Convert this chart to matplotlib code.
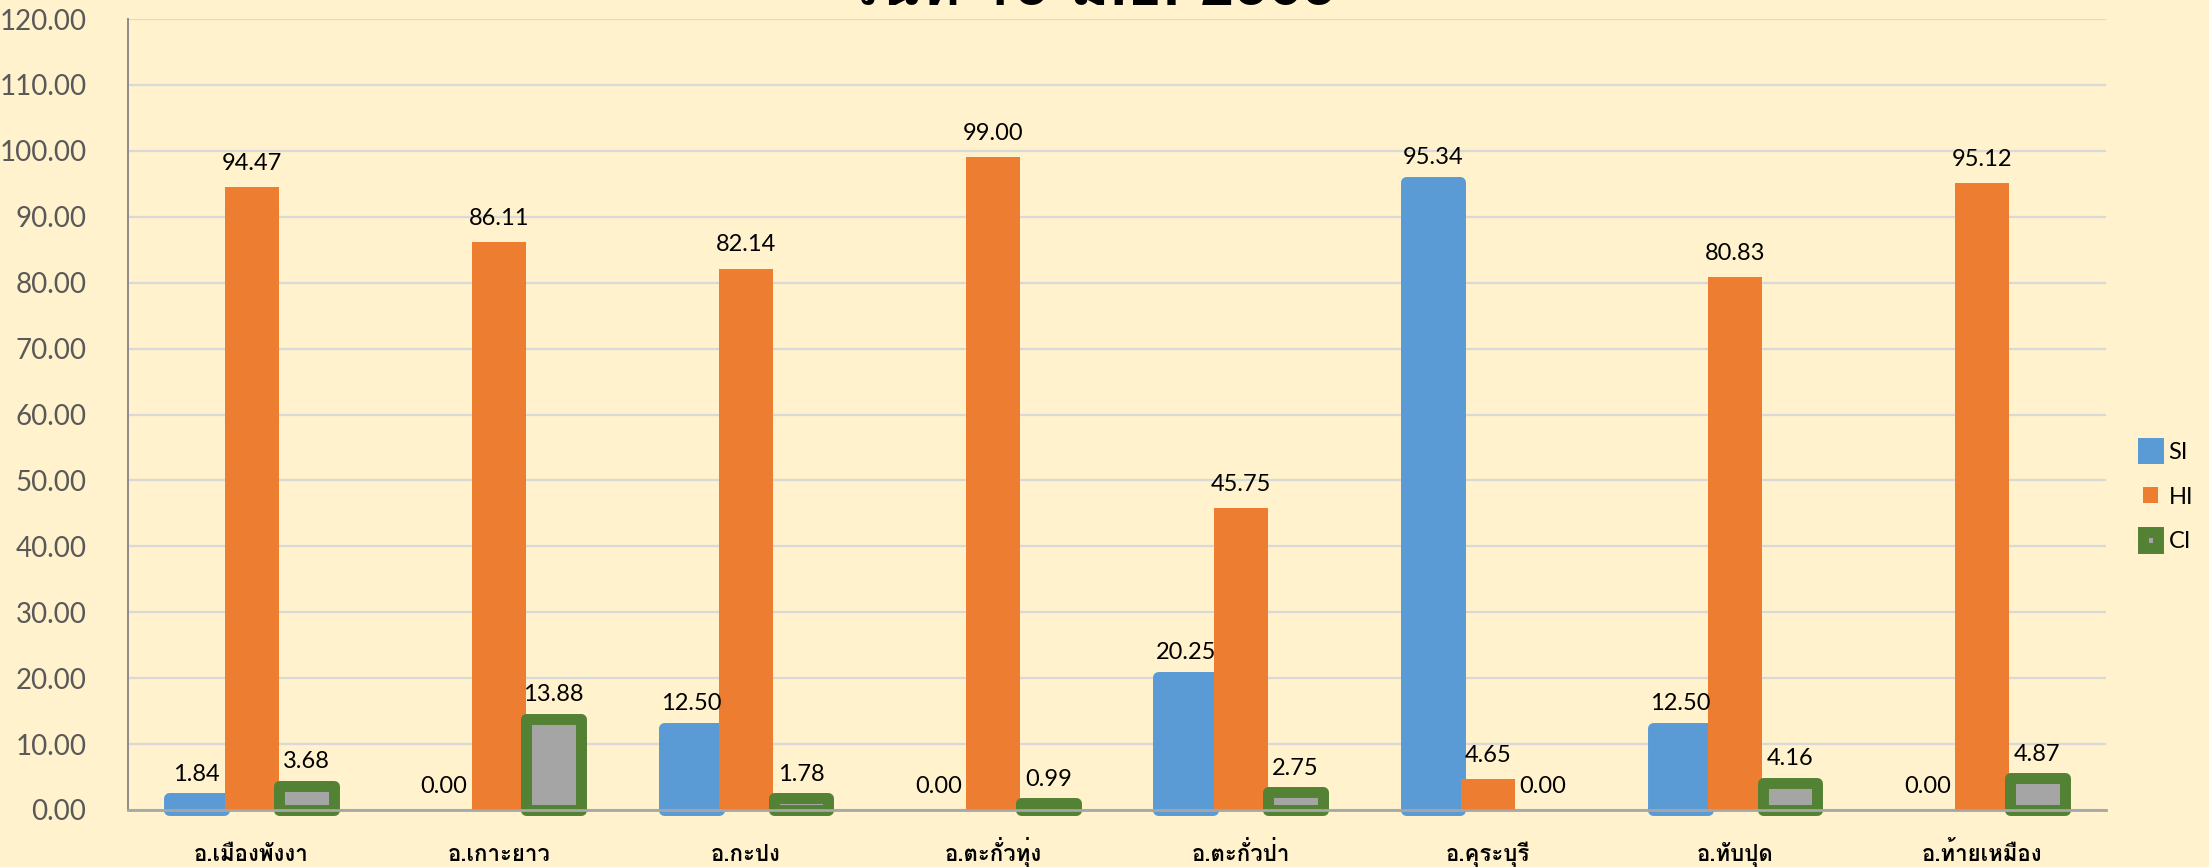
import matplotlib
matplotlib.use("Agg")
import matplotlib.pyplot as plt
from matplotlib import font_manager
from matplotlib.ft2font import FT2Font
from matplotlib.patches import Patch
import numpy as np

#------------------------datos------------------------
districts = ["อ.เมืองพังงา", "อ.เกาะยาว", "อ.กะปง", "อ.ตะกั่วทุ่ง",
             "อ.ตะกั่วป่า", "อ.คุระบุรี", "อ.ทับปุด", "อ.ท้ายเหมือง"]
si = [1.84, 0.00, 12.50, 0.00, 20.25, 95.34, 12.50, 0.00]
hi = [94.47, 86.11, 82.14, 99.00, 45.75, 4.65, 80.83, 95.12]
ci = [3.68, 13.88, 1.78, 0.99, 2.75, 0.00, 4.16, 4.87]
series_names = ["SI", "HI", "CI"]
title_text = "วันที่ 15 มิ.ย. 2565"
yticks = np.arange(0, 121, 10)


# busco una fuente con glifos tailandeses
def thai_family():
    regular = None
    for f in font_manager.fontManager.ttflist:
        try:
            cmap = FT2Font(f.fname).get_charmap()
        except Exception:
            continue
        if 0x0E2D in cmap:
            if f.weight in ("bold", 700, "heavy"):
                return f.name
            regular = regular or f.name
    return regular


thai = thai_family()
thai_fam = [thai, "DejaVu Sans"] if thai else ["DejaVu Sans"]

bg = "#FFF2CC"
c_si = "#5B9BD5"
c_hi = "#ED7D31"
c_ci_face = "#A5A5A5"
c_ci_edge = "#548235"

fig = plt.figure(figsize=(22.09, 8.67), dpi=100, facecolor=bg)
ax = fig.add_axes([128 / 2209, 57 / 867, (2106 - 128) / 2209, (810 - 19) / 867])
ax.set_facecolor(bg)

x = np.arange(len(districts))
w = 0.222
edge_lw = 7.9

b1 = ax.bar(x - w, si, w, color=c_si, edgecolor=c_si,
            linewidth=[edge_lw if v > 0 else 0 for v in si],
            joinstyle="round", zorder=2)
b2 = ax.bar(x, hi, w * 0.98, color=c_hi, linewidth=0, zorder=2)
b3 = ax.bar(x + w, ci, w, color=c_ci_face, edgecolor=c_ci_edge,
            linewidth=[edge_lw if v > 0 else 0 for v in ci],
            joinstyle="round", zorder=2)
for b in (b1, b2, b3):
    for p in b:
        p.set_clip_on(False)

# etiquetas de valores
for xs, vals in ((x - w, si), (x, hi), (x + w, ci)):
    for xi, v in zip(xs, vals):
        ax.annotate(f"{v:.2f}", (xi, v), xytext=(0, 12.5), textcoords="offset points",
                    ha="center", va="baseline", fontsize=17, family="Lato",
                    color="black", zorder=5)

ax.set_xlim(-0.5, len(districts) - 0.5)
ax.set_ylim(0, 120)
ax.set_yticks(yticks)
ax.set_yticklabels([f"{t:.2f}" for t in yticks], fontsize=20, family="Lato", color="#595959")
ax.tick_params(axis="y", length=0, pad=30)
ax.set_xticks(x)
ax.set_xticklabels(districts, fontsize=16, fontweight="bold", family=thai_fam)
ax.tick_params(axis="x", length=0, pad=36.5)
for t in ax.get_xticklabels():
    t.set_va("baseline")

ax.grid(axis="y", color="#D9D9D9", linewidth=1.6, zorder=0)
ax.set_axisbelow(True)
for s in ("top", "right"):
    ax.spines[s].set_visible(False)
ax.spines["left"].set_color("#8C8C8C")
ax.spines["left"].set_linewidth(1.4)
ax.spines["bottom"].set_color("#A6A6A6")
ax.spines["bottom"].set_linewidth(2)

fig.text(1090 / 2209, 1 - 5 / 867, title_text, ha="center", va="baseline",
         fontsize=44, fontweight="bold", family=thai_fam)

handles = [
    Patch(facecolor=c_si, edgecolor=c_si, linewidth=edge_lw, joinstyle="round"),
    Patch(facecolor=c_hi, linewidth=0),
    Patch(facecolor=c_ci_face, edgecolor=c_ci_edge, linewidth=edge_lw, joinstyle="round"),
]
ax.legend(handles, series_names, loc="center left",
          bbox_to_anchor=(2143 / 2209, 1 - 497 / 867),
          bbox_transform=fig.transFigure, frameon=False, borderpad=0,
          borderaxespad=0, handlelength=0.63, handleheight=0.63,
          handletextpad=0.45, labelspacing=1.0,
          prop={"family": "Lato", "size": 17})

fig.savefig("out.png", dpi=100, facecolor=bg)
